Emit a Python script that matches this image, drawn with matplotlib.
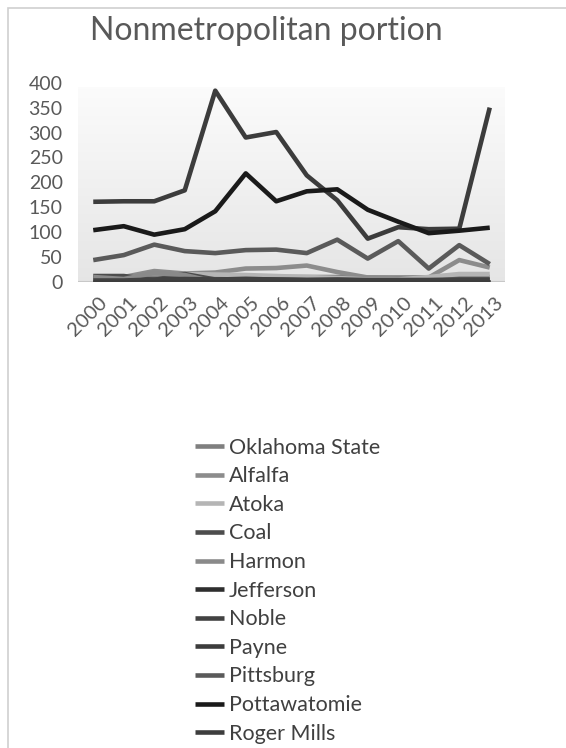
import numpy as np
import matplotlib
matplotlib.use("Agg")
import matplotlib.pyplot as plt
import matplotlib.transforms as mtransforms
from matplotlib.patches import Rectangle

plt.rcParams['font.family'] = ['Lato', 'DejaVu Sans']

#data
years = [str(y) for y in range(2000, 2014)]
oklahoma_state = [8, 8, 9, 9, 9, 10, 10, 10, 10, 9, 9, 9, 10, 10]
alfalfa = [7, 10, 22, 17, 19, 27, 28, 33, 20, 9, 7, 9, 44, 29]
atoka = [0, 0, 0, 16, 15, 14, 12, 10, 8, 5, 5, 10, 16, 16]
coal = [12, 12, 4, 16, 5, 6, 5, 4, 4, 3, 3, 2, 3, 3]
harmon = [10, 6, 18, 14, 0, 0, 0, 0, 0, 0, 0, 0, 0, 0]
jefferson = [0, 0, 0, 0, 0, 0, 0, 0, 0, 0, 0, 0, 0, 0]
noble = [3, 3, 5, 6, 5, 6, 5, 4, 5, 4, 4, 4, 5, 5]
payne = [161, 162, 162, 184, 384, 290, 301, 214, 164, 87, 110, 106, 107, 350]
pittsburg = [44, 54, 75, 62, 58, 64, 65, 58, 85, 47, 82, 27, 74, 36]
pottawatomie = [104, 112, 95, 106, 142, 218, 162, 182, 186, 145, 121, 98, 103, 109]
roger_mills = [0, 0, 0, 0, 0, 0, 0, 0, 0, 0, 0, 0, 0, 0]

names = ["Oklahoma State", "Alfalfa", "Atoka", "Coal", "Harmon", "Jefferson",
         "Noble", "Payne", "Pittsburg", "Pottawatomie", "Roger Mills"]
series = [oklahoma_state, alfalfa, atoka, coal, harmon, jefferson,
          noble, payne, pittsburg, pottawatomie, roger_mills]
colors = ["#7f7f7f", "#8c8c8c", "#b5b5b5", "#4d4d4d", "#8a8a8a", "#2e2e2e",
          "#424242", "#3c3c3c", "#5a5a5a", "#1a1a1a", "#3d3d3d"]

W, H = 566, 748
fig = plt.figure(figsize=(W / 100, H / 100), dpi=100)

#chart border (top and left visible)
fig.patches.append(Rectangle((8 / W, -0.1), 1.2, 1 - 8 / H + 0.1, transform=fig.transFigure,
                             fill=False, edgecolor="#cfcfcf", lw=1.2))

ax = fig.add_axes([78 / W, 1 - 282 / H, 427 / W, (282 - 82.7) / H])
x = np.arange(len(years))

#gradient background, light at top, grey at bottom
g = np.linspace(0.985, 0.9, 256)
grad = np.dstack([g, g, g]).reshape(256, 1, 3)
ax.imshow(grad, extent=(-0.5, 13.5, 0, 390), aspect="auto", origin="upper", zorder=0)

for vals, name, c in zip(series, names, colors):
    ax.plot(x, vals, color=c, lw=3.3, label=name, solid_capstyle="butt", zorder=2)

ax.axhline(0, color="#c8c8c8", lw=1.5, zorder=1)
ax.set_xlim(-0.5, 13.5)
ax.set_ylim(0, 400)
ax.set_yticks(range(0, 401, 50))
ax.set_xticks(x)
ax.set_xticklabels(years)
for s in ax.spines.values():
    s.set_visible(False)
ax.tick_params(length=0, labelsize=14, labelcolor="#595959")
ax.tick_params(axis="y", pad=11)
ax.tick_params(axis="x", pad=13, labelsize=14.5)
offset = mtransforms.ScaledTranslation(11 / 100, 0, fig.dpi_scale_trans)
for lab in ax.get_xticklabels():
    lab.set_rotation(45)
    lab.set_ha("right")
    lab.set_rotation_mode("anchor")
    lab.set_va("center")
    lab.set_transform(lab.get_transform() + offset)

fig.text(0.5 * (90 + 443) / W, 1 - 31 / H, "Nonmetropolitan portion", fontsize=23,
         color="#595959", ha="center", va="center")

h, l = ax.get_legend_handles_labels()
leg = fig.legend(h, l, loc="upper left", bbox_to_anchor=(186 / W, 1 - 429 / H),
                 frameon=False, fontsize=15.5, handlelength=1.35, handletextpad=0.25,
                 labelspacing=0.4, borderaxespad=0)
for t in leg.get_texts():
    t.set_color("#404040")

fig.savefig("out.png", dpi=100)
